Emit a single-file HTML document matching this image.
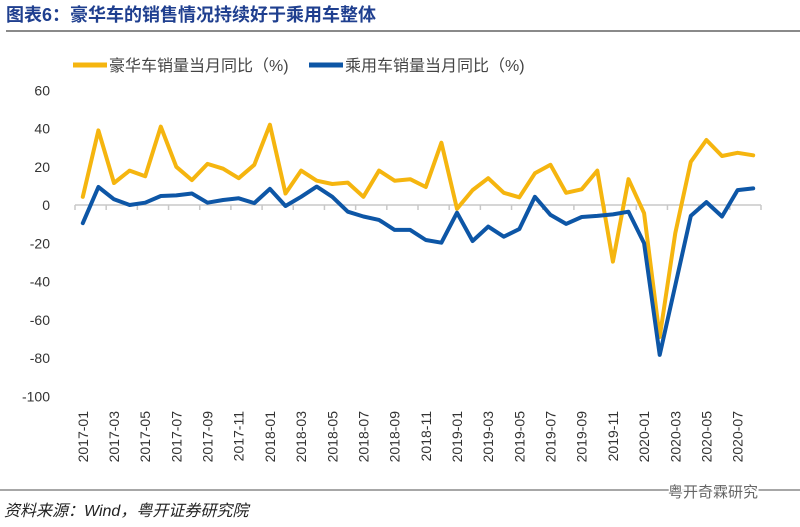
<!DOCTYPE html>
<html><head><meta charset="utf-8">
<style>
html,body{margin:0;padding:0;background:#fff;width:800px;height:527px;overflow:hidden}
svg{display:block;font-family:"Liberation Sans","Noto Sans CJK SC",sans-serif}
</style></head>
<body>
<svg id="chart" width="800" height="527" viewBox="0 0 800 527">
<text x="6" y="21" font-size="18" font-weight="bold" fill="#1f3f8f">图表6：豪华车的销售情况持续好于乘用车整体</text>
<line x1="6" y1="31" x2="800" y2="31" stroke="#8a8a8a" stroke-width="2"/>
<g>
<g>
<line x1="73" y1="65" x2="107" y2="65" stroke="#f5b50f" stroke-width="5"/>
<text x="109" y="71" font-size="16" fill="#444">豪华车销量当月同比（%)</text></g>
<g>
<line x1="309" y1="65" x2="343" y2="65" stroke="#0d56a6" stroke-width="5"/>
<text x="345" y="71" font-size="16" fill="#444">乘用车销量当月同比（%)</text></g>
</g>
<g id="axes"></g>
<g id="series"></g>
<line x1="0" y1="490" x2="800" y2="490" stroke="#8a8a8a" stroke-width="1.5"/>
<text x="4" y="516" font-size="16" font-style="italic" fill="#222">资料来源：Wind，粤开证券研究院</text>
<text x="668" y="497" font-size="15" fill="#666" stroke="#fff" stroke-width="3" paint-order="stroke">粤开奇霖研究</text>
</svg>
<script>
const months = [];
for (let y = 2017; y <= 2020; y++) for (let m = 1; m <= 12; m++) { if (y === 2020 && m > 8) break; months.push(y + '-' + String(m).padStart(2, '0')); }
const luxury = [4.3,39,11.5,18,15,41,20,13,21.5,19,14,21,42,6,18,12.7,11,11.7,4.3,18,12.7,13.5,9.4,32.6,-2,7.8,14,6.4,4,16.6,21,6.4,8.2,18,-29.6,13.5,-4.3,-69,-14.7,22.6,34,25.6,27.3,26];
const passenger = [-9.5,9.4,3,0,1.2,4.7,5,6,1.2,2.6,3.5,1,8.4,-0.5,4.3,9.6,4.3,-3.5,-6,-7.8,-13,-13,-18.3,-19.7,-4,-18.8,-11.3,-16.6,-12.6,4.3,-5.2,-9.9,-6.3,-5.7,-4.9,-3.5,-20,-78.4,-42,-5.7,1.5,-6,7.8,8.7];
const yTicks = [60,40,20,0,-20,-40,-60,-80,-100];

const NS = 'http://www.w3.org/2000/svg';
const x0 = 75, x1 = 761;
const step = (x1 - x0) / months.length;
const xs = i => x0 + step * (i + 0.5);
const ys = v => 205 - v * 1.9125;
const axes = document.getElementById('axes');
const series = document.getElementById('series');
function mk(tag, attrs, parent) { const e = document.createElementNS(NS, tag); for (const k in attrs) e.setAttribute(k, attrs[k]); parent.appendChild(e); return e; }

yTicks.forEach(v => {
  const t = mk('text', {x: 50, y: ys(v) + 5, 'font-size': 14, fill: '#333', 'text-anchor': 'end'}, axes);
  t.textContent = v;
  
  
});
const ax = mk('line', {x1: x0, x2: x1, y1: ys(0), y2: ys(0), stroke: '#c8c8c8', 'stroke-width': 1.5}, axes);


for (let i = 0; i <= months.length; i += 2) {
  const tk = mk('line', {x1: x0 + step * i, x2: x0 + step * i, y1: ys(0), y2: ys(0) + 5, stroke: '#c8c8c8', 'stroke-width': 1.5}, axes);
  
  
}
months.forEach((m, i) => {
  if (i % 2) return;
  const x = xs(i) + 5, y = 411;
  const t = mk('text', {x: x, y: y, 'font-size': 14, fill: '#333', 'text-anchor': 'end', transform: `rotate(-90 ${x} ${y})`}, axes);
  t.textContent = m;
  
  
});
function line(data, color, name) {
  const d = data.map((v, i) => (i ? 'L' : 'M') + xs(i).toFixed(1) + ' ' + ys(v).toFixed(1)).join(' ');
  const p = mk('path', {d: d, fill: 'none', stroke: color, 'stroke-width': 4, 'stroke-linejoin': 'round', 'stroke-linecap': 'round'}, series);
  
  
}
line(luxury, '#f5b50f', 'luxury-line');
line(passenger, '#0d56a6', 'passenger-line');
</script>
</body></html>
